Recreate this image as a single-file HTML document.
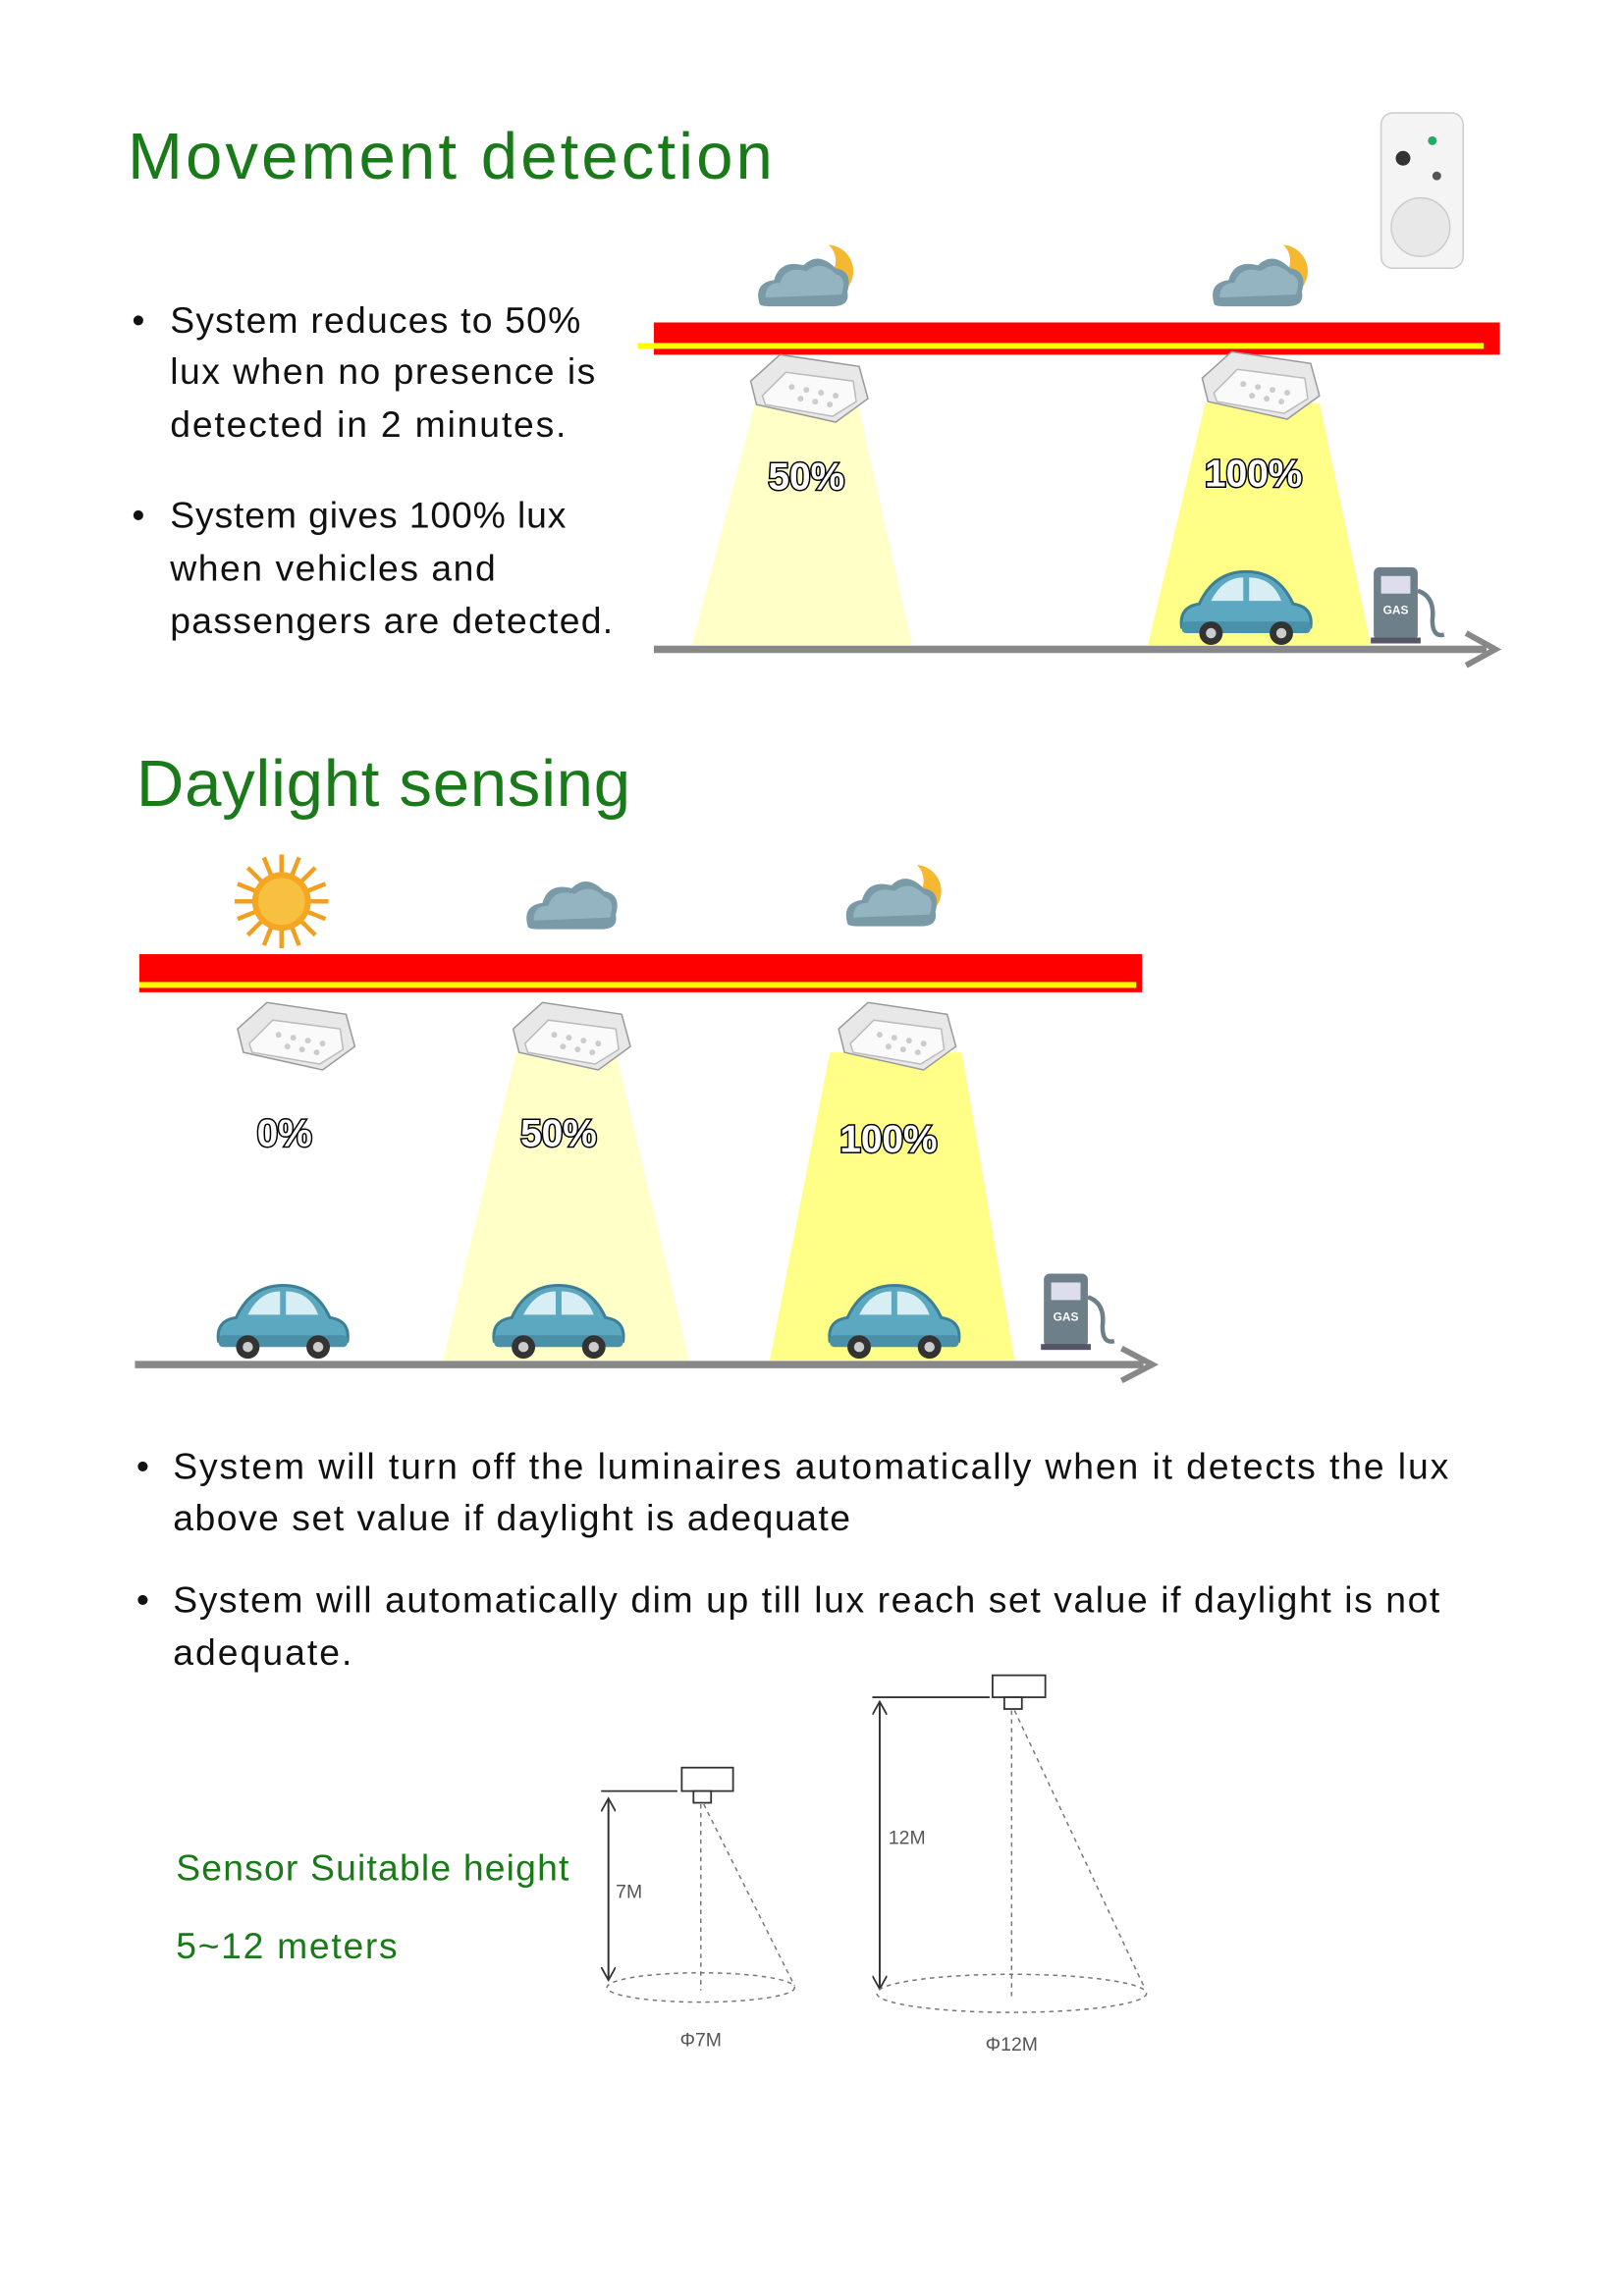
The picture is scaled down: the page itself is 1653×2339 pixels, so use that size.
<!DOCTYPE html>
<html><head><meta charset="utf-8"><style>
html,body{margin:0;padding:0;background:#fff;}
svg{display:block;}
text{font-family:"Liberation Sans",sans-serif;}
</style></head><body>
<svg width="1653" height="2339" viewBox="0 0 1107 1566.5" xmlns="http://www.w3.org/2000/svg">
<defs>
<g id="lamp">
 <path d="M-38,-8 L-18,-26 L36,-18 L42,4 L20,20 L-34,8 Z" fill="#e8e8e8" stroke="#999" stroke-width="1"/>
 <path d="M-30,2 L-14,-14 L32,-8 L34,6 L18,16 L-28,8 Z" fill="#fafafa" stroke="#bbb"/>
 <g fill="#ccc"><circle cx="-10" cy="-4" r="2"/><circle cx="0" cy="-2" r="2"/><circle cx="10" cy="0" r="2"/><circle cx="20" cy="2" r="2"/><circle cx="-4" cy="4" r="2"/><circle cx="6" cy="6" r="2"/><circle cx="16" cy="8" r="2"/></g>
</g>
<g id="cloud">
 <path d="M-30,12 Q-34,-2 -20,-4 Q-16,-18 0,-14 Q10,-24 22,-12 Q34,-10 30,4 Q32,14 20,14 L-22,14 Q-30,14 -30,12 Z" fill="#7a9aa8"/>
 <path d="M-26,8 Q-26,-2 -16,-2 Q-12,-14 2,-10 Q12,-18 22,-8 Q30,-6 26,6 Z" fill="#9fbfcc" opacity="0.7"/>
</g>
<g id="cloudmoon">
 <circle cx="16" cy="-10" r="18" fill="#f5b830"/>
 <circle cx="7" cy="-17" r="15" fill="#fff"/>
 <use href="#cloud"/>
</g>
<g id="car">
 <path d="M-44,10 Q-46,-4 -32,-6 Q-22,-28 0,-28 Q22,-28 32,-6 Q46,-4 44,10 Z" fill="#5ba8c0" stroke="#3d7f95" stroke-width="2"/>
 <path d="M-24,-8 Q-16,-24 -2,-24 L-2,-8 Z M2,-24 Q18,-24 24,-8 L2,-8 Z" fill="#d8eef5"/>
 <rect x="-44" y="6" width="88" height="8" rx="3" fill="#4a90a8"/>
 <circle cx="-24" cy="14" r="8" fill="#333"/><circle cx="-24" cy="14" r="3.5" fill="#ccc"/>
 <circle cx="24" cy="14" r="8" fill="#333"/><circle cx="24" cy="14" r="3.5" fill="#ccc"/>
</g>
<g id="gas">
 <rect x="-18" y="-26" width="30" height="50" rx="4" fill="#6d7f88"/>
 <rect x="-13" y="-20" width="20" height="12" fill="#dde"/>
 <text x="-3" y="6" font-size="8" fill="#fff" text-anchor="middle" font-weight="bold">GAS</text>
 <rect x="-20" y="22" width="34" height="4" fill="#556"/>
 <path d="M12,-10 Q24,-6 22,10 Q22,22 30,20" fill="none" stroke="#6d7f88" stroke-width="3"/>
</g>
<g id="sun">
 <g stroke="#f0a020" stroke-width="3">
  <line x1="-32" y1="0" x2="32" y2="0"/><line x1="0" y1="-32" x2="0" y2="32"/>
  <line x1="-23" y1="-23" x2="23" y2="23"/><line x1="-23" y1="23" x2="23" y2="-23"/>
  <line x1="-30" y1="-12" x2="30" y2="12"/><line x1="-30" y1="12" x2="30" y2="-12"/>
  <line x1="-12" y1="-30" x2="12" y2="30"/><line x1="12" y1="-30" x2="-12" y2="30"/>
 </g>
 <circle r="20" fill="#f5a623"/><circle r="16" fill="#f8c040"/>
</g>
<marker id="ah" markerWidth="10" markerHeight="10" refX="8" refY="5" orient="auto" markerUnits="userSpaceOnUse"><path d="M0,0 L9,5 L0,10" fill="none" stroke="#333" stroke-width="1.2"/></marker>
</defs>

<text x="87" y="122" font-size="45" fill="#1a7a1a" textLength="440">Movement detection</text>
<rect x="942" y="77" width="56" height="106" rx="8" fill="#f4f4f4" stroke="#ccc"/>
<circle cx="957" cy="108" r="5" fill="#333"/><circle cx="977" cy="96" r="3" fill="#2a6"/><circle cx="980" cy="120" r="3" fill="#555"/>
<circle cx="969" cy="155" r="20" fill="#e8e8e8" stroke="#ccc"/>

<g font-size="25" fill="#111">
<text x="90" y="227">•</text><text x="116" y="227" textLength="280">System reduces to 50%</text>
<text x="116" y="262" textLength="290">lux when no presence is</text>
<text x="116" y="298" textLength="270">detected in 2 minutes.</text>
<text x="90" y="360">•</text><text x="116" y="360" textLength="270">System gives 100% lux</text>
<text x="116" y="396" textLength="222">when vehicles and</text>
<text x="116" y="432" textLength="302">passengers are detected.</text>
</g>

<use href="#cloudmoon" x="548" y="195"/>
<use href="#cloudmoon" x="858" y="195"/>
<rect x="446" y="220" width="577" height="22" fill="#f00"/>
<rect x="435" y="234" width="577" height="4" fill="#ff0"/>

<polygon points="515,275 585,275 622,440 472,440" fill="#ffffc8"/>
<polygon points="822,275 900,275 935,440 783,440" fill="#ffff88"/>
<use href="#lamp" x="550" y="268"/>
<use href="#lamp" x="858" y="266"/>
<g font-size="26" font-weight="bold" fill="#fff" stroke="#000" stroke-width="2" paint-order="stroke" text-anchor="middle">
<text x="550" y="334">50%</text><text x="855" y="332">100%</text>
</g>
<use href="#car" x="850" y="418"/>
<use href="#gas" x="955" y="413"/>
<line x1="446" y1="443" x2="1014" y2="443" stroke="#888" stroke-width="5"/>
<path d="M1000,432 L1020,443 L1000,454" fill="none" stroke="#888" stroke-width="4"/>

<text x="93" y="550" font-size="45" fill="#1a7a1a" textLength="337">Daylight sensing</text>
<use href="#sun" x="192" y="615"/>
<use href="#cloud" x="390" y="620"/>
<use href="#cloudmoon" x="608" y="618"/>
<rect x="95" y="651" width="684" height="26" fill="#f00"/>
<rect x="95" y="670" width="680" height="4" fill="#ff0"/>

<polygon points="352,718 420,718 470,928 302,928" fill="#ffffc8"/>
<polygon points="566,718 656,718 692,928 525,928" fill="#ffff88"/>
<use href="#lamp" x="200" y="710"/>
<use href="#lamp" x="388" y="710"/>
<use href="#lamp" x="610" y="710"/>
<g font-size="26" font-weight="bold" fill="#fff" stroke="#000" stroke-width="2" paint-order="stroke" text-anchor="middle">
<text x="194" y="782">0%</text><text x="381" y="782">50%</text><text x="606" y="786">100%</text>
</g>
<use href="#car" x="193" y="905"/>
<use href="#car" x="381" y="905"/>
<use href="#car" x="610" y="905"/>
<use href="#gas" x="730" y="895"/>
<line x1="92" y1="931" x2="780" y2="931" stroke="#888" stroke-width="5"/>
<path d="M765,920 L786,931 L765,942" fill="none" stroke="#888" stroke-width="4"/>

<g font-size="25" fill="#111">
<text x="93" y="1009">•</text><text x="118" y="1009" textLength="870">System will turn off the luminaires automatically when it detects the lux</text>
<text x="118" y="1044" textLength="462">above set value if daylight is adequate</text>
<text x="93" y="1100">•</text><text x="118" y="1100" textLength="864">System will automatically dim up till lux reach set value if daylight is not</text>
<text x="118" y="1136" textLength="122">adequate.</text>
</g>
<g font-size="25" fill="#1a7a1a">
<text x="120" y="1283" textLength="268">Sensor Suitable height</text>
<text x="120" y="1336" textLength="151">5~12 meters</text>
</g>

<g stroke="#333" fill="none" stroke-width="1.2">
<rect x="465" y="1206" width="35" height="16" fill="#fff"/>
<rect x="473" y="1222" width="12" height="8" fill="#fff"/>
<line x1="410" y1="1222" x2="462" y2="1222"/>
<line x1="415" y1="1230" x2="415" y2="1350" marker-end="url(#ah)"/>
<line x1="415" y1="1350" x2="415" y2="1228" marker-end="url(#ah)"/>
</g>
<g stroke="#777" fill="none" stroke-width="1" stroke-dasharray="3,3">
<line x1="478" y1="1231" x2="478" y2="1358"/>
<line x1="480" y1="1231" x2="542" y2="1355"/>
<ellipse cx="478" cy="1356" rx="64" ry="10"/>
</g>
<text x="420" y="1295" font-size="13" fill="#555">7M</text>
<text x="478" y="1396" font-size="13" fill="#555" text-anchor="middle">Φ7M</text>

<g stroke="#333" fill="none" stroke-width="1.2">
<rect x="677" y="1143" width="36" height="15" fill="#fff"/>
<rect x="685" y="1158" width="12" height="8" fill="#fff"/>
<line x1="595" y1="1158" x2="675" y2="1158"/>
<line x1="600" y1="1165" x2="600" y2="1356" marker-end="url(#ah)"/>
<line x1="600" y1="1356" x2="600" y2="1162" marker-end="url(#ah)"/>
</g>
<g stroke="#777" fill="none" stroke-width="1" stroke-dasharray="3,3">
<line x1="690" y1="1167" x2="690" y2="1362"/>
<line x1="692" y1="1167" x2="781" y2="1357"/>
<ellipse cx="690" cy="1360" rx="92" ry="13"/>
</g>
<text x="606" y="1258" font-size="13" fill="#555">12M</text>
<text x="690" y="1399" font-size="13" fill="#555" text-anchor="middle">Φ12M</text>
</svg>
</body></html>
